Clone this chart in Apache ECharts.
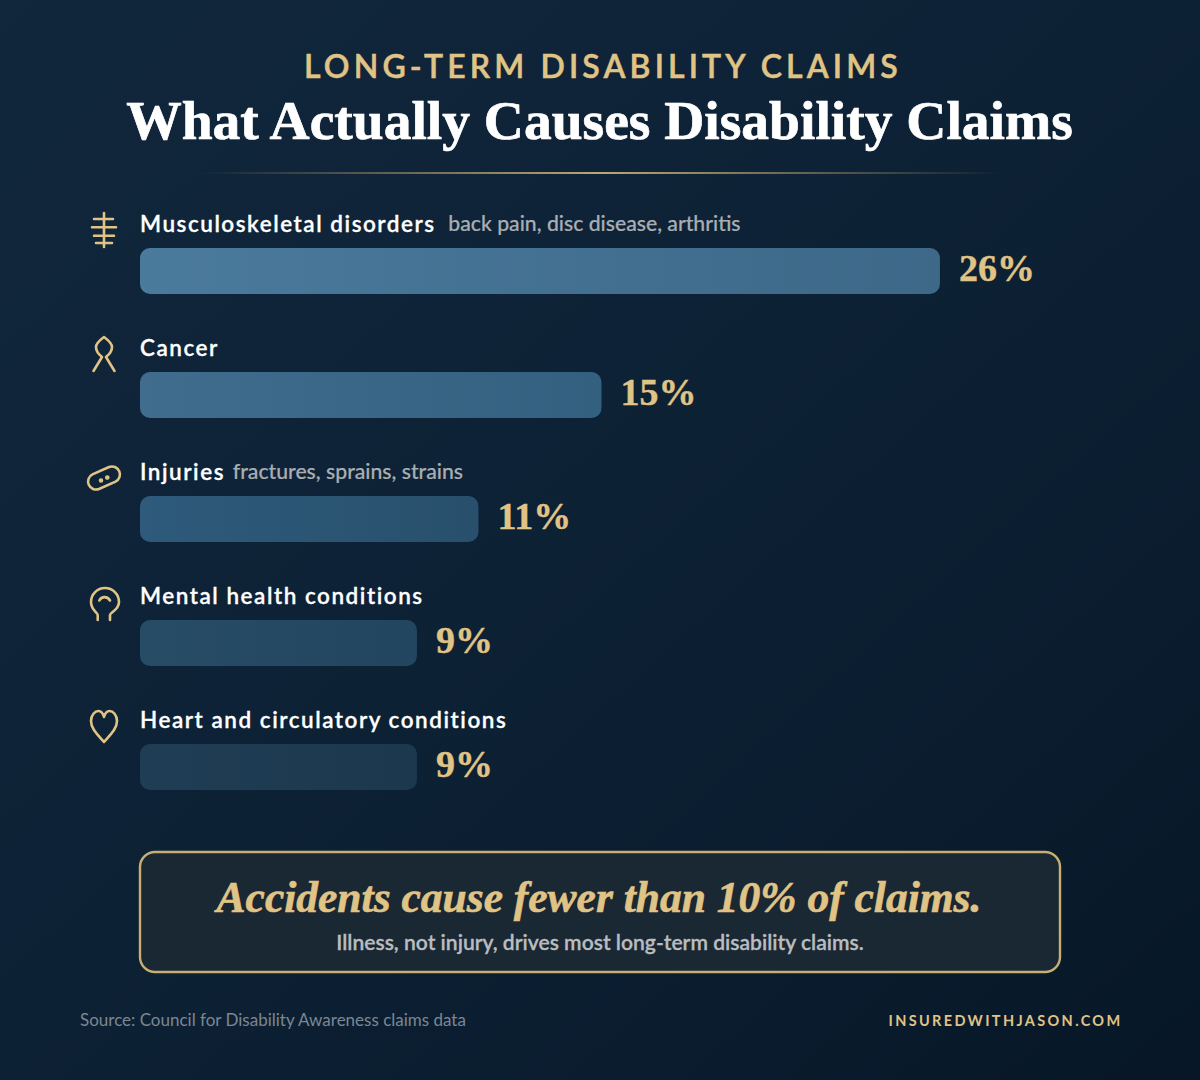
<!DOCTYPE html>
<html>
<head>
<meta charset="utf-8">
<script src="https://cdn.jsdelivr.net/npm/echarts@6/dist/echarts.min.js"></script>
<style>
  html, body { margin: 0; padding: 0; background: #0b1d30; }
  #chart { width: 1200px; height: 1080px; }
  /* letter spacing for the tracked text styles of the SVG output */
  text[style*="32px"] { letter-spacing: 4.15px; }
  text[style*="22.5px"] { letter-spacing: 1.53px; }
  text[style*="14.5px"] { letter-spacing: 2.35px; }
</style>
</head>
<body>
<div id="chart"></div>
<script>
// Share of long-term disability claims by cause (percent)
const categories = ['Musculoskeletal disorders', 'Cancer', 'Injuries', 'Mental health conditions', 'Heart and circulatory conditions'];
const details = ['back pain, disc disease, arthritis', '', 'fractures, sprains, strains', '', ''];
const shares = [26, 15, 11, 9, 9];
const barStart = ['#4a7a9c', '#406d8d', '#2e5a7b', '#274c66', '#1f3d54'];
const barEnd = ['#3d6888', '#33607f', '#28506c', '#234660', '#1c384f'];

// Line icons, drawn around their own centre
const iconPaths = [
  'M0 -17 V17 M-10 -11 H9 M-12 -2.7 H12 M-10 5.7 H10 M-8 13 H8',
  'M-10.5 17 L-2 3 C-7 -1 -8 -5 -8 -7 C-8 -11 -4 -14 0 -17 C4 -14 8 -11 8 -7 C8 -5 7 -1 2 3 L10.5 17',
  'M-5.05 11 L11.55 3.6 A8 8 0 0 0 5.05 -11 L-11.55 -3.6 A8 8 0 0 0 -5.05 11 Z M-4 2.5 a1 1 0 1 0 2 0 a1 1 0 1 0 -2 0 M2.3 -0.5 a1 1 0 1 0 2 0 a1 1 0 1 0 -2 0',
  'M-6.3 18 V13 C-6.3 10.5 -13 8 -13 0 A14 14 0 0 1 15 0 C15 8 6 10.5 6 13 V18 M-4.7 -1.5 C-2.5 -6 3.5 -6 6 -1.5',
  'M0 16 C-6 9 -13 3 -13 -5 C-13 -11 -9 -15 -5.5 -15 C-3 -15 -1 -12.5 0 -9 C1 -12.5 3 -15 5.5 -15 C9 -15 13 -11 13 -5 C13 3 6 9 0 16 Z'
];

const GOLD = '#e0c486';
const SERIF = '"Liberation Serif", serif';
const SANS = 'Lato, sans-serif';

// The note after a cause name starts past the name's tracked width
const detailRich = {};
categories.forEach((name, i) => {
  detailRich['detail' + i] = {
    fontFamily: SANS, fontSize: 21.2, fontWeight: 500, color: '#a8aeb2',
    textBorderColor: '#a8aeb2', textBorderWidth: 0.2,
    padding: [0, 0, 0, name.length * 1.82 + 5.4]
  };
});

const chart = echarts.init(document.getElementById('chart'), null, { renderer: 'svg' });

chart.setOption({
  animation: false,
  backgroundColor: {
    type: 'linear', x: 0, y: 0, x2: 1, y2: 1,
    colorStops: [
      { offset: 0, color: '#11273c' },
      { offset: 0.5, color: '#0d2135' },
      { offset: 1, color: '#071727' }
    ]
  },
  title: [
    {
      text: 'LONG-TERM DISABILITY CLAIMS', left: 598, top: 44, textAlign: 'center',
      textStyle: {
        fontFamily: SANS, fontSize: 32, fontWeight: 600, color: GOLD,
        textBorderColor: GOLD, textBorderWidth: 0.5
      }
    },
    {
      text: 'What Actually Causes Disability Claims', left: 594.5, top: 87, textAlign: 'center',
      textStyle: {
        fontFamily: SERIF, fontSize: 55.5, fontWeight: 'bold', color: '#ffffff',
        textBorderColor: '#ffffff', textBorderWidth: 0.7
      }
    }
  ],
  grid: { left: 140, top: 209, width: 923, height: 620 },
  xAxis: { type: 'value', min: 0, max: 30, show: false },
  yAxis: {
    type: 'category', inverse: true, data: categories,
    axisLine: { show: false }, axisTick: { show: false }, splitLine: { show: false },
    axisLabel: {
      inside: true, margin: 0, interval: 0, align: 'left', verticalAlign: 'middle',
      padding: [0, 0, 96, 0],
      formatter: (name, i) => details[i]
        ? '{name|' + name + '}{detail' + i + '|' + details[i] + '}'
        : '{name|' + name + '}',
      rich: Object.assign({
        name: {
          fontFamily: SANS, fontSize: 22.5, fontWeight: 600, color: '#ffffff',
          textBorderColor: '#ffffff', textBorderWidth: 0.3
        }
      }, detailRich)
    }
  },
  series: [
    {
      type: 'bar',
      barWidth: 46,
      data: shares.map((v, i) => ({
        value: v,
        itemStyle: {
          borderRadius: 10,
          color: {
            type: 'linear', x: 0, y: 0, x2: 1, y2: 0,
            colorStops: [{ offset: 0, color: barStart[i] }, { offset: 1, color: barEnd[i] }]
          }
        }
      })),
      label: {
        show: true, position: 'right', distance: 19, offset: [0, -3], formatter: '{c}%',
        fontFamily: SERIF, fontSize: 38, fontWeight: 'bold', color: GOLD,
        textBorderColor: GOLD, textBorderWidth: 0.4
      }
    },
    {
      type: 'custom',
      silent: true,
      clip: false,
      data: iconPaths.map((_, i) => [0, i]),
      renderItem: (params, api) => {
        const p = api.coord([api.value(0), api.value(1)]);
        return {
          type: 'path',
          x: p[0] - 36, y: p[1] - 41,
          shape: { pathData: iconPaths[params.dataIndex] },
          style: { fill: 'none', stroke: GOLD, lineWidth: 2.6, lineCap: 'round', lineJoin: 'round' }
        };
      }
    }
  ],
  graphic: [
    {
      type: 'rect', x: 200, y: 172, shape: { width: 800, height: 2 }, silent: true,
      style: {
        fill: {
          type: 'linear', x: 0, y: 0, x2: 1, y2: 0,
          colorStops: [
            { offset: 0, color: 'rgba(201,173,114,0)' },
            { offset: 0.5, color: 'rgba(201,173,114,0.95)' },
            { offset: 1, color: 'rgba(201,173,114,0)' }
          ]
        }
      }
    },
    {
      type: 'rect', x: 140, y: 852, shape: { width: 920, height: 120, r: 15 }, silent: true,
      style: { fill: '#1a2834', stroke: '#c9ae74', lineWidth: 2.4 }
    },
    {
      type: 'text', x: 599, y: 897, silent: true,
      style: {
        text: 'Accidents cause fewer than 10% of claims.', textAlign: 'center', textVerticalAlign: 'middle',
        fontFamily: SERIF, fontSize: 43.5, fontWeight: 'bold', fontStyle: 'italic', fill: GOLD,
        stroke: GOLD, lineWidth: 0.6
      }
    },
    {
      type: 'text', x: 600, y: 941, silent: true,
      style: {
        text: 'Illness, not injury, drives most long-term disability claims.', textAlign: 'center', textVerticalAlign: 'middle',
        fontFamily: SANS, fontSize: 21.1, fontWeight: 600, fill: '#b9bdc0',
        stroke: '#b9bdc0', lineWidth: 0.3
      }
    },
    {
      type: 'text', x: 80, y: 1019, silent: true,
      style: {
        text: 'Source: Council for Disability Awareness claims data', textAlign: 'left', textVerticalAlign: 'middle',
        fontFamily: SANS, fontSize: 17, fill: '#7b8792'
      }
    },
    {
      type: 'text', x: 1122.5, y: 1020, silent: true,
      style: {
        text: 'INSUREDWITHJASON.COM', textAlign: 'right', textVerticalAlign: 'middle',
        fontFamily: SANS, fontSize: 14.5, fontWeight: 700, fill: GOLD
      }
    }
  ]
});
</script>
</body>
</html>
